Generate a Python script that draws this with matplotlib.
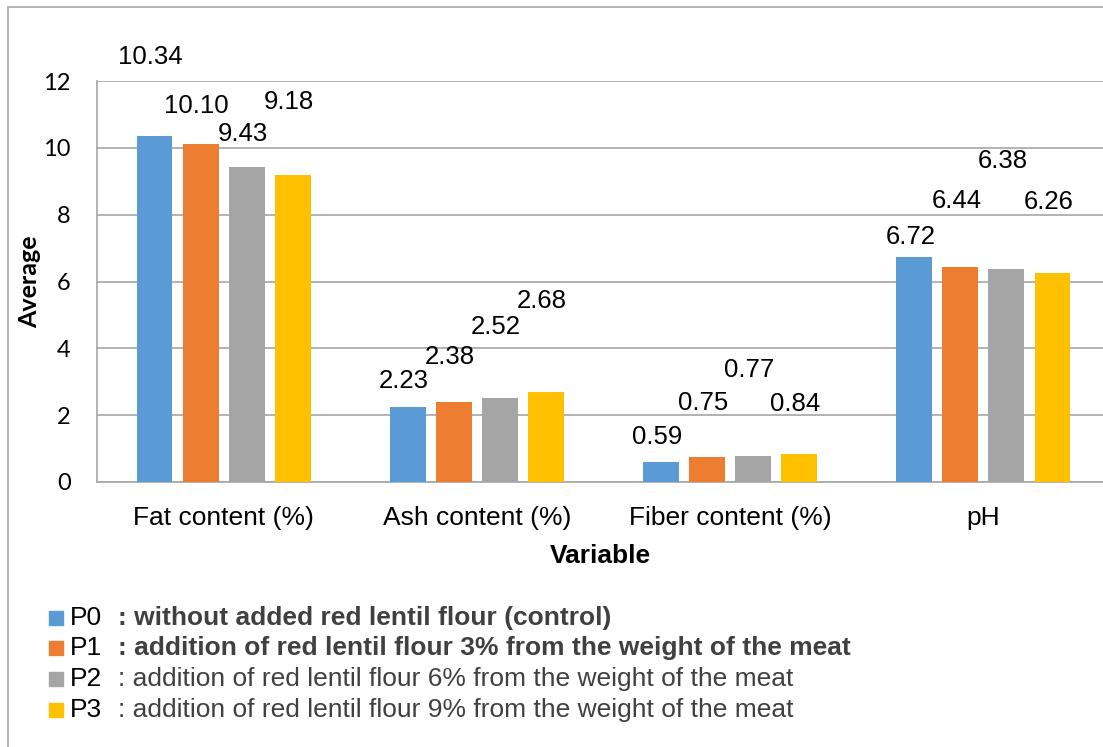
import numpy as np
import matplotlib.pyplot as plt
from matplotlib.patches import Rectangle

plt.rcParams['font.family'] = ['Liberation Sans', 'DejaVu Sans']

categories = ["Fat content (%)", "Ash content (%)", "Fiber content (%)", "pH"]
series_names = ["P0", "P1", "P2", "P3"]
colors = ["#5b9bd5", "#ed7d31", "#a5a5a5", "#ffc000"]

p0 = [10.34, 2.23, 0.59, 6.72]
p1 = [10.10, 2.38, 0.75, 6.44]
p2 = [9.43, 2.52, 0.77, 6.38]
p3 = [9.18, 2.68, 0.84, 6.26]

# where each value label sits (data units on the y axis)
label_y = [
    [12.72, 3.02, 1.35, 7.33],
    [11.25, 3.74, 2.36, 8.41],
    [10.41, 4.64, 3.35, 9.60],
    [11.37, 5.42, 2.33, 8.38],
]

legend_desc = [
    ": without added red lentil flour (control)",
    ": addition of red lentil flour 3% from the weight of the meat",
    ": addition of red lentil flour 6% from the weight of the meat",
    ": addition of red lentil flour 9% from the weight of the meat",
]
legend_bold = [True, True, False, False]

W, H = 1103, 747
fig = plt.figure(figsize=(W / 100, H / 100), dpi=100)

# outer chart border (only left and top edges fall inside the image)
fig.patches.append(Rectangle((8 / W, -0.1), 1.2, 1.1 - 7 / H, transform=fig.transFigure,
                             fill=False, edgecolor="#a6a6a6", linewidth=1.2))

ax = fig.add_axes([97 / W, 1 - 482 / H, 1013 / W, (482 - 81) / H])

all_vals = [p0, p1, p2, p3]
x = np.arange(len(categories))
width = 0.142
step = 0.182
for i, vals in enumerate(all_vals):
    xs = x + (i - 1.5) * step
    ax.bar(xs, vals, width=width, color=colors[i], zorder=3)
    for j, v in enumerate(vals):
        ax.text(xs[j] - 0.015, label_y[i][j], f"{v:.2f}", ha="center", va="center",
                fontsize=18.5, color="black", clip_on=False)

ax.set_xlim(-0.5, 3.5)
ax.set_ylim(0, 12)
ax.set_yticks(range(0, 13, 2))
ax.set_xticks(x)
ax.set_xticklabels(categories, fontsize=19)
for lbl in ax.get_yticklabels():
    lbl.set_family(['Lato', 'DejaVu Sans'])
ax.tick_params(axis="y", labelsize=17, length=0, pad=19)
ax.tick_params(axis="x", length=0, pad=17)
ax.grid(axis="y", color="#a6a6a6", linewidth=1.2, zorder=0)
for side in ["top", "right"]:
    ax.spines[side].set_visible(False)
for side in ["left", "bottom"]:
    ax.spines[side].set_color("#a6a6a6")
    ax.spines[side].set_linewidth(1.2)

fig.text(30 / W, 1 - 282 / H, "Average", rotation=90, ha="center", va="center",
         fontsize=18, fontweight="bold", family=['Lato', 'DejaVu Sans'])
fig.text(600 / W, 1 - 556 / H, "Variable", ha="center", va="center",
         fontsize=19, fontweight="bold")

# legend drawn by hand, one row per treatment
rows_y = [618, 648, 679, 710]
for i in range(4):
    y = 1 - rows_y[i] / H
    fig.patches.append(Rectangle((49 / W, y - 7 / H), 14 / W, 14 / H,
                                 transform=fig.transFigure, color=colors[i]))
    fig.text(70 / W, y, series_names[i], ha="left", va="center", fontsize=19)
    fig.text(118 / W, y, legend_desc[i], ha="left", va="center", fontsize=19,
             color="#404040", fontweight="bold" if legend_bold[i] else "normal")

fig.savefig("out.png", dpi=100)
